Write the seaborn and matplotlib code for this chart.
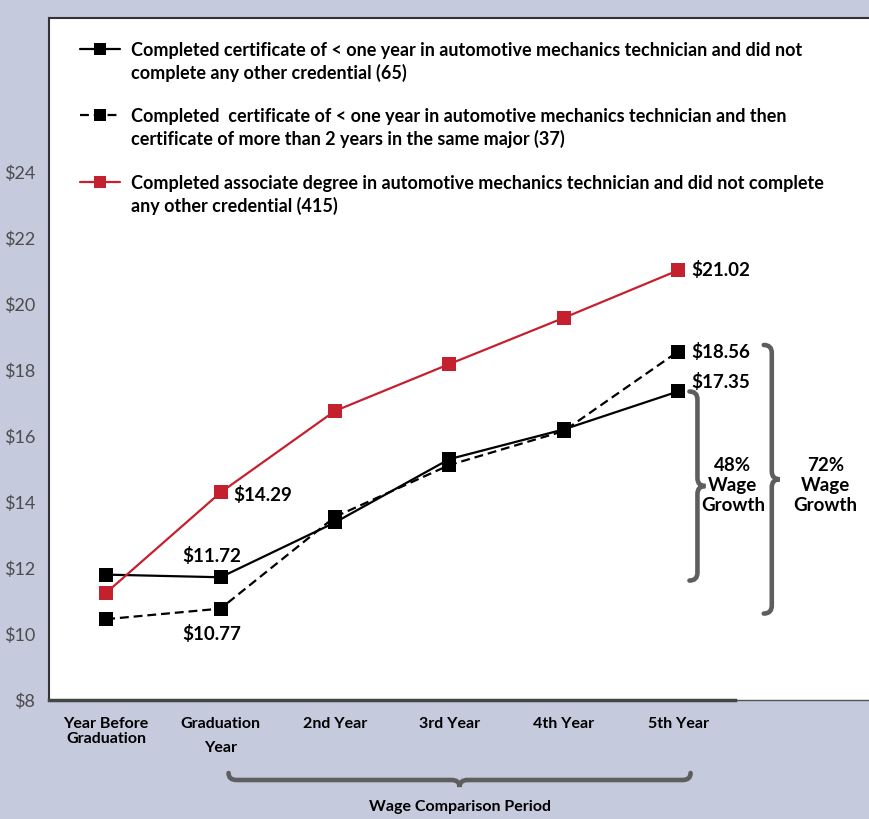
import matplotlib
matplotlib.use('Agg')
import matplotlib.pyplot as plt
from matplotlib.path import Path
from matplotlib.patches import PathPatch
from matplotlib.transforms import IdentityTransform
import numpy as np
import pandas as pd
import seaborn as sns

periods = ['Year Before\nGraduation', 'Graduation\nYear', '2nd Year', '3rd Year', '4th Year', '5th Year']
cert_only = [11.80, 11.72, 13.38, 15.30, 16.20, 17.35]
cert_then_cert = [10.45, 10.77, 13.55, 15.12, 16.15, 18.56]
assoc_degree = [11.25, 14.29, 16.76, 18.18, 19.58, 21.02]
groups = ['Completed certificate of < one year in automotive mechanics technician and did not\ncomplete any other credential (65)',
          'Completed  certificate of < one year in automotive mechanics technician and then\ncertificate of more than 2 years in the same major (37)',
          'Completed associate degree in automotive mechanics technician and did not complete\nany other credential (415)']
y_ticks = [8, 10, 12, 14, 16, 18, 20, 22, 24]

RED = '#c5202e'
BG = '#c5cadd'
GREY = '#5e5e5e'

sns.set_style('white')
plt.rcParams['font.family'] = ['Lato', 'DejaVu Sans']
plt.rcParams['text.parse_math'] = False
plt.rcParams['text.color'] = 'black'

W, H = 869, 819
fig = plt.figure(figsize=(W / 100, H / 100), dpi=100, facecolor=BG)
ax = fig.add_axes([49 / W, 119 / H, 820 / W, 682 / H])
ax.set_facecolor('white')

pos = np.arange(len(periods))
df = pd.DataFrame({
    'pos': np.concatenate([pos, pos, pos]),
    'wage': cert_only + cert_then_cert + assoc_degree,
    'group': [groups[0]] * 6 + [groups[1]] * 6 + [groups[2]] * 6,
})
colors = {groups[0]: 'black', groups[1]: 'black', groups[2]: RED}
dashes = {groups[0]: '', groups[1]: (4, 2.2), groups[2]: ''}
markers = {g: 's' for g in groups}
sns.lineplot(data=df, x='pos', y='wage', hue='group', style='group', hue_order=groups,
             palette=colors, dashes=dashes, markers=markers, markersize=10,
             markeredgewidth=0, linewidth=1.6, legend=False, sort=False, ax=ax)

ax.set_xlim(-0.5, 6.67)
ax.set_ylim(8, 28.67)
ax.set_xticks(pos)
ax.set_xticklabels(periods, fontsize=11.5, fontweight='bold', color='black')
ax.set_xticks(pos + 0.5, minor=True)
ax.tick_params(axis='x', which='major', length=0, pad=12)
ax.tick_params(axis='x', which='minor', direction='in', length=9.5, width=1, color='#333333')
ax.set_yticks(y_ticks)
ax.set_yticklabels(['$%d' % v for v in y_ticks], fontsize=13, color='#4d4d4d')
ax.tick_params(axis='y', length=0, pad=10)
ax.set_xlabel('')
ax.set_ylabel('')
for lab in ax.get_xticklabels():
    lab.set_linespacing(1.15)
    if lab.get_text().startswith('Graduation'):
        lab.set_linespacing(1.9)

for s in ['left', 'top']:
    ax.spines[s].set_color('#333333')
    ax.spines[s].set_linewidth(1.5)
ax.spines['right'].set_visible(False)
ax.spines['bottom'].set_color('#444444')
ax.spines['bottom'].set_linewidth(2.5)
ax.spines['bottom'].set_bounds(-0.5, 5.5)
ax.axhline(8, xmin=6 / 7.17, xmax=1, color='#555555', linewidth=1, clip_on=False)

# value labels
lab_font = dict(fontsize=13.5, fontweight='bold')
ax.annotate('$%.2f' % assoc_degree[5], (5, assoc_degree[5]), xytext=(13, 0), textcoords='offset pixels', va='center', ha='left', **lab_font)
ax.annotate('$%.2f' % cert_then_cert[5], (5, cert_then_cert[5]), xytext=(13, 0), textcoords='offset pixels', va='center', ha='left', **lab_font)
ax.annotate('$%.2f' % cert_only[5], (5, cert_only[5]), xytext=(13, 9), textcoords='offset pixels', va='center', ha='left', **lab_font)
ax.annotate('$%.2f' % assoc_degree[1], (1, assoc_degree[1]), xytext=(13, -3), textcoords='offset pixels', va='center', ha='left', **lab_font)
ax.annotate('$%.2f' % cert_only[1], (1, cert_only[1]), xytext=(-9, 21), textcoords='offset pixels', va='center', ha='center', **lab_font)
ax.annotate('$%.2f' % cert_then_cert[1], (1, cert_then_cert[1]), xytext=(-9, -25), textcoords='offset pixels', va='center', ha='center', **lab_font)


def brace(a, b, width, normal, r=8, lw=3.3):
    a = np.asarray(a, float)
    b = np.asarray(b, float)
    L = np.linalg.norm(b - a)
    t = (b - a) / L
    n = np.asarray(normal, float)
    h = width / 2
    local = [(0, 0), (0, h), (r, h), (L / 2 - r, h), (L / 2, h), (L / 2, width),
             (L / 2, h), (L / 2 + r, h), (L - r, h), (L, h), (L, 0)]
    codes = [Path.MOVETO, Path.CURVE3, Path.CURVE3, Path.LINETO, Path.CURVE3, Path.CURVE3,
             Path.CURVE3, Path.CURVE3, Path.LINETO, Path.CURVE3, Path.CURVE3]
    verts = [a + u * t + v * n for u, v in local]
    p = PathPatch(Path(verts, codes), fill=False, edgecolor=GREY, linewidth=lw,
                  capstyle='round', transform=IdentityTransform())
    fig.add_artist(p)


td = ax.transData
brace(td.transform((5.1, cert_only[5])), td.transform((5.1, cert_only[1] - 0.1)), 16, (1, 0))
brace(td.transform((5.75, cert_then_cert[5] + 0.2)), td.transform((5.75, cert_then_cert[1] - 0.15)), 16, (1, 0))
xl = td.transform((1.07, 8))[0]
xr = td.transform((5.11, 8))[0]
brace((xl, 46), (xr, 46), 14, (0, -1))

ax.text(5.48, 14.5, '48%\nWage\nGrowth', ha='center', va='center', fontsize=13.5, fontweight='bold', linespacing=1.2)
ax.text(6.29, 14.5, '72%\nWage\nGrowth', ha='center', va='center', fontsize=13.5, fontweight='bold', linespacing=1.2)
fig.text(td.transform((3.09, 8))[0] / W, 12 / H, 'Wage Comparison Period', ha='center', va='center',
         fontsize=11.5, fontweight='bold')


# legend drawn by hand so the marker sits on the first text line
def ax_xy(px, py):
    return (px - 49) / 820, (700 - py) / 682


leg_rows = [49, 115, 182]
for g, row in zip(groups, leg_rows):
    x0, y0 = ax_xy(80, row)
    x1, _ = ax_xy(100, row)
    x2, _ = ax_xy(120, row)
    ax.plot([x0, x1, x2], [y0, y0, y0], transform=ax.transAxes, color=colors[g],
            linewidth=1.6, dashes=dashes[g] if dashes[g] else (None, None),
            marker='s', markevery=[1], markersize=8, markeredgewidth=0, clip_on=False)
    tx, ty = ax_xy(131, row - 7)
    ax.text(tx, ty, g, transform=ax.transAxes, ha='left', va='top', fontsize=13,
            fontweight='bold', linespacing=1.3)

fig.savefig('out.png', dpi=100, facecolor=BG)
